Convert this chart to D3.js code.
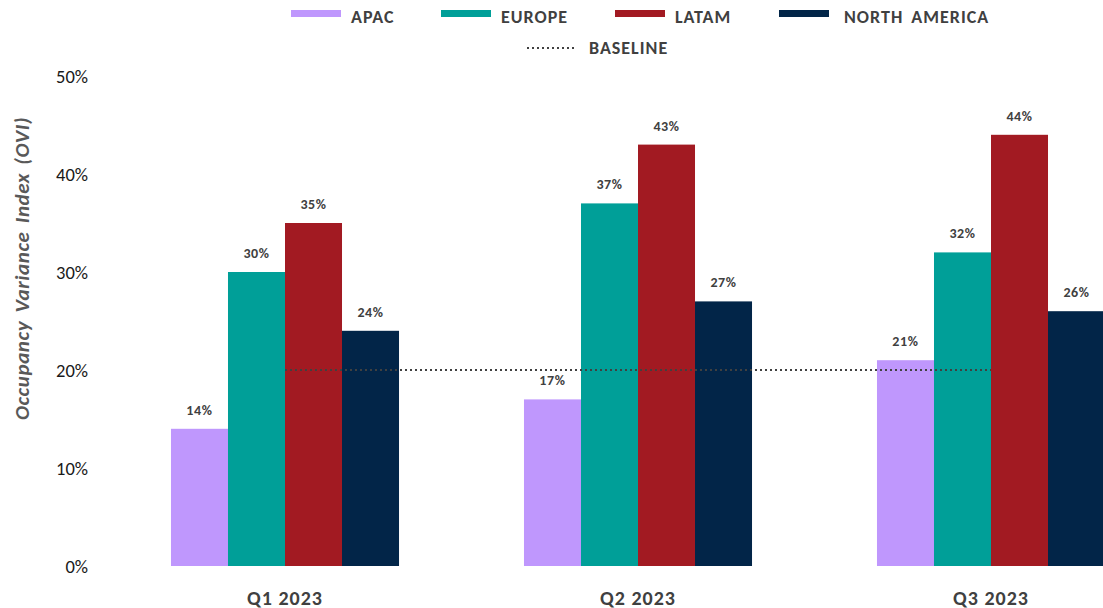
<!DOCTYPE html>
<html>
<head>
<meta charset="utf-8">
<script src="https://cdn.jsdelivr.net/npm/d3@7/dist/d3.min.js"></script>
<style>
  html, body { margin: 0; padding: 0; background: #ffffff; }
  svg { display: block; font-family: Carlito, Calibri, Lato, "Open Sans", sans-serif; }
</style>
</head>
<body>
<svg id="chart" width="1103" height="608"></svg>
<script>
// Quarterly occupancy variance by region
const quarters = ["Q1 2023", "Q2 2023", "Q3 2023"];
const regions = ["APAC", "EUROPE", "LATAM", "NORTH AMERICA"];
const apac = [0.14, 0.17, 0.21];
const europe = [0.30, 0.37, 0.32];
const latam = [0.35, 0.43, 0.44];
const northAmerica = [0.24, 0.27, 0.26];
const baseline = 0.20;
const yTicks = [0, 0.1, 0.2, 0.3, 0.4, 0.5];
const regionColors = ["#BF97FD", "#009F98", "#A21A22", "#022548"];

const seriesValues = [apac, europe, latam, northAmerica];
const rows = quarters.map((q, i) => ({
  quarter: q,
  values: regions.map((r, k) => ({ region: r, value: seriesValues[k][i] }))
}));

const svg = d3.select("#chart");

const y = d3.scaleLinear().domain([0, 0.5]).range([566, 76]);
const x0 = d3.scaleBand().domain(quarters).range([108.5, 1167.5])
  .paddingInner(0.354).paddingOuter(0.177);
const x1 = d3.scaleBand().domain(regions).range([0, x0.bandwidth()]);
const color = d3.scaleOrdinal().domain(regions).range(regionColors);
const pct = d3.format(".0%");

// Y axis tick labels
const yAxis = d3.axisLeft(y).tickValues(yTicks).tickFormat(pct).tickSize(0).tickPadding(0);
const gy = svg.append("g").attr("transform", "translate(88,0)").call(yAxis);
gy.select(".domain").remove();
gy.selectAll("text")
  .attr("fill", "#1a1a1a")
  .attr("dy", "0.35em")
  .style("font-size", "18.5px")
  .style("font-family", "Carlito, Calibri, Lato, sans-serif");

// Y axis title
svg.append("text")
  .attr("transform", "translate(29,268.5) rotate(-90)")
  .attr("text-anchor", "middle")
  .attr("fill", "#595959")
  .style("font-size", "21px")
  .style("font-style", "italic")
  .style("font-weight", "bold")
  .style("letter-spacing", "0.6px")
  .style("word-spacing", "3px")
  .text("Occupancy Variance Index (OVI)");

// Bars
const groups = svg.append("g").selectAll("g")
  .data(rows).join("g")
  .attr("transform", d => `translate(${x0(d.quarter)},0)`);

groups.selectAll("rect")
  .data(d => d.values).join("rect")
  .attr("x", d => x1(d.region))
  .attr("y", d => y(d.value))
  .attr("width", x1.bandwidth())
  .attr("height", d => y(0) - y(d.value))
  .attr("fill", d => color(d.region));

// Value labels
groups.selectAll("text.val")
  .data(d => d.values).join("text")
  .attr("class", "val")
  .attr("x", d => x1(d.region) + x1.bandwidth() / 2)
  .attr("y", d => y(d.value) - 14)
  .attr("text-anchor", "middle")
  .attr("fill", "#404040")
  .style("font-size", "14px")
  .style("font-weight", "bold")
  .style("letter-spacing", "0.6px")
  .text(d => pct(d.value));

// Baseline reference line, from the first to the last quarter centre
const centers = quarters.map(q => x0(q) + x0.bandwidth() / 2);
svg.append("line")
  .attr("x1", d3.min(centers))
  .attr("x2", d3.max(centers))
  .attr("y1", y(baseline))
  .attr("y2", y(baseline))
  .attr("stroke", "#404040")
  .attr("stroke-width", 2)
  .attr("stroke-dasharray", "2,3");

// X axis labels
const xAxis = d3.axisBottom(x0).tickSize(0).tickPadding(0);
const gx = svg.append("g").attr("transform", "translate(0,597.5)").call(xAxis);
gx.select(".domain").remove();
gx.selectAll("text")
  .attr("fill", "#404040")
  .attr("dy", "0.35em")
  .style("font-size", "20px")
  .style("font-weight", "bold")
  .style("letter-spacing", "1px")
  .style("font-family", "Carlito, Calibri, Lato, sans-serif");

// Legend
const swatchX = [291, 441, 615, 779];
const legend = svg.append("g");
regions.forEach((r, i) => {
  const g = legend.append("g").attr("transform", `translate(${swatchX[i]},13.5)`);
  g.append("rect").attr("x", 0).attr("y", -3.5).attr("width", 50).attr("height", 7).attr("fill", color(r));
  g.append("text").attr("x", i === 3 ? 65 : 60).attr("y", 3.5).attr("dy", "0.35em")
    .attr("fill", "#404040")
    .style("font-size", "18px")
    .style("font-weight", "bold")
    .style("letter-spacing", "1px")
    .style("word-spacing", "3px")
    .text(r);
});
const lb = legend.append("g").attr("transform", "translate(527,48)");
lb.append("line").attr("x1", 0).attr("x2", 49).attr("y1", 0).attr("y2", 0)
  .attr("stroke", "#404040").attr("stroke-width", 2).attr("stroke-dasharray", "2,3");
lb.append("text").attr("x", 62).attr("y", 0).attr("dy", "0.35em")
  .attr("fill", "#404040")
  .style("font-size", "18px")
  .style("font-weight", "bold")
  .style("letter-spacing", "1px")
  .text("BASELINE");
</script>
</body>
</html>
